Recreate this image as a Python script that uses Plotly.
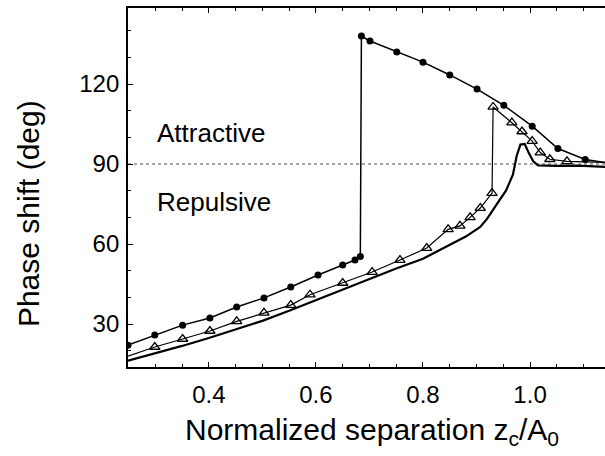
import plotly.graph_objects as go

# Filled circles series (approach, upper branch after jump)
circ_x = [0.249, 0.299, 0.351, 0.402, 0.452, 0.503, 0.553, 0.604, 0.650, 0.673, 0.683,
          0.685, 0.701, 0.751, 0.800, 0.850, 0.901, 0.951, 1.004, 1.052, 1.103, 1.140]
circ_y = [22.1, 25.9, 29.6, 32.3, 36.4, 39.8, 43.9, 48.4, 52.1, 54.0, 55.3,
          138.0, 136.1, 132.0, 128.2, 123.4, 118.1, 112.0, 104.2, 95.8, 91.7, 90.6]
circ_marker_x = circ_x[:-1]
circ_marker_y = circ_y[:-1]

# Open triangles series
tri_x = [0.249, 0.299, 0.351, 0.402, 0.452, 0.503, 0.553, 0.589, 0.650, 0.705, 0.757,
         0.807, 0.847, 0.869, 0.888, 0.907, 0.929,
         0.931, 0.966, 0.985, 1.004, 1.019, 1.037, 1.069, 1.140]
tri_y = [18.0, 21.4, 24.4, 27.4, 31.0, 34.2, 37.1, 41.0, 45.4, 49.5, 54.0,
         58.5, 65.5, 66.8, 70.0, 73.5, 79.1,
         111.4, 105.5, 102.2, 98.6, 94.3, 91.8, 91.0, 90.6]
tri_marker_x = tri_x[1:-1]
tri_marker_y = tri_y[1:-1]

# Solid curve (no markers)
sol_x = [0.249, 0.30, 0.35, 0.40, 0.45, 0.50, 0.55, 0.60, 0.65, 0.70, 0.75, 0.80, 0.85,
         0.88, 0.907, 0.92, 0.938, 0.955, 0.968, 0.975, 0.982, 0.990, 0.998, 1.006,
         1.015, 1.05, 1.09, 1.14]
sol_y = [16.3, 19.0, 21.8, 24.8, 28.0, 31.2, 35.0, 39.0, 43.0, 47.0, 50.8, 54.5, 59.5,
         62.8, 66.4, 69.5, 75.0, 80.0, 86.0, 93.0, 97.3, 97.5, 94.0, 91.0,
         89.5, 89.3, 89.4, 88.9]

x_ticks = [0.4, 0.6, 0.8, 1.0]
x_ticklabels = ["0.4", "0.6", "0.8", "1.0"]
y_ticks = [30, 60, 90, 120]
y_ticklabels = ["30", "60", "90", "120"]
boundary_y = 90

FONT = "Liberation Sans, Arial, sans-serif"

fig = go.Figure()
fig.add_trace(go.Scatter(x=sol_x, y=sol_y, mode="lines", line=dict(color="black", width=2.2),
                         showlegend=False, hoverinfo="skip"))
fig.add_trace(go.Scatter(x=tri_x, y=tri_y, mode="lines", line=dict(color="black", width=1.2),
                         showlegend=False, hoverinfo="skip"))
fig.add_trace(go.Scatter(x=tri_marker_x, y=tri_marker_y, mode="markers",
                         marker=dict(symbol="triangle-up-open", size=9, color="black",
                                     line=dict(width=1.3, color="black")),
                         showlegend=False, hoverinfo="skip"))
fig.add_trace(go.Scatter(x=circ_x, y=circ_y, mode="lines", line=dict(color="black", width=1.5),
                         showlegend=False, hoverinfo="skip"))
fig.add_trace(go.Scatter(x=circ_marker_x, y=circ_marker_y, mode="markers",
                         marker=dict(symbol="circle", size=7, color="black"),
                         showlegend=False, hoverinfo="skip"))

fig.add_shape(type="line", xref="paper", x0=0, x1=1, yref="y", y0=boundary_y, y1=boundary_y,
              line=dict(color="#888888", width=1.5, dash="dot"), layer="below")

fig.update_layout(
    width=605, height=456,
    margin=dict(l=128, r=0, t=8, b=89),
    paper_bgcolor="white", plot_bgcolor="white",
    font=dict(family=FONT, color="black"),
    xaxis=dict(range=[0.249, 1.14], tickvals=x_ticks, ticktext=x_ticklabels,
               ticks="inside", ticklen=5, tickwidth=1, tickcolor="black",
               showline=True, linecolor="black", linewidth=1.8, mirror="ticks",
               showgrid=False, zeroline=False, ticklabelstandoff=5,
               tickfont=dict(size=24, family=FONT, color="black"),
               minor=dict(dtick=0.05, tick0=0, ticks="inside", ticklen=3, tickcolor="black",
                          showgrid=False)),
    yaxis=dict(range=[13.9, 148.5], tickvals=y_ticks, ticktext=y_ticklabels,
               ticks="inside", ticklen=5, tickwidth=1, tickcolor="black",
               showline=True, linecolor="black", linewidth=1.8, mirror=False,
               showgrid=False, zeroline=False, ticklabelstandoff=2,
               tickfont=dict(size=24, family=FONT, color="black"),
               minor=dict(dtick=10, tick0=0, ticks="inside", ticklen=3, tickcolor="black",
                          showgrid=False)),
    annotations=[
        dict(text="Attractive", x=0.299, y=101.5, xref="x", yref="y", xanchor="left",
             yanchor="middle", showarrow=False, font=dict(size=26, family=FONT, color="black")),
        dict(text="Repulsive", x=0.299, y=75.6, xref="x", yref="y", xanchor="left",
             yanchor="middle", showarrow=False, font=dict(size=26, family=FONT, color="black")),
        dict(text="Phase shift (deg)", x=-0.2096, y=0.426, xref="paper", yref="paper",
             xanchor="center", yanchor="middle", textangle=-90, showarrow=False,
             font=dict(size=30, family=FONT, color="black")),
        dict(text="Normalized separation z<sub>c</sub>/A<sub>0</sub>", x=0.5115, y=-0.18,
             xref="paper", yref="paper", xanchor="center", yanchor="middle", showarrow=False,
             font=dict(size=30, family=FONT, color="black")),
    ],
)

fig.write_html("out.html")
